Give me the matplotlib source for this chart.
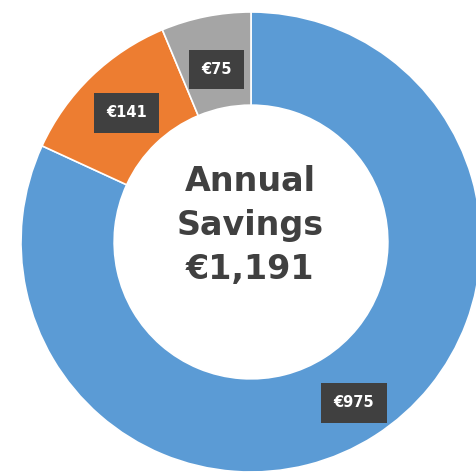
import matplotlib
matplotlib.use("Agg")
import matplotlib.pyplot as plt
import numpy as np

categories = ["Blue", "Orange", "Gray"]
values = [975, 141, 75]
labels = ["€975", "€141", "€75"]
colors = ["#5B9BD5", "#ED7D31", "#A5A5A5"]
center_lines = ["Annual", "Savings", "€1,191"]

W, H = 477, 475
fig = plt.figure(figsize=(W / 100, H / 100), dpi=100)
ax = fig.add_axes([0, 0, 1, 1])

cx, cy = 251, H - 242
R = 230
ring = 0.405

wedges, _ = ax.pie(values, colors=colors, startangle=90, counterclock=False,
                   center=(cx, cy), radius=R, frame=True,
                   wedgeprops=dict(width=R * ring, edgecolor="white", linewidth=1.2))
ax.set_xlim(0, W)
ax.set_ylim(0, H)
ax.set_aspect("equal")
ax.axis("off")

dists = [0.83, 0.78, 0.765]
for w, lab, d in zip(wedges, labels, dists):
    ang = np.deg2rad((w.theta1 + w.theta2) / 2)
    x = cx + R * d * np.cos(ang)
    y = cy + R * d * np.sin(ang)
    ax.text(x, y, lab, ha="center", va="center", color="white", fontsize=10.5,
            fontweight="bold", family="DejaVu Sans",
            bbox=dict(boxstyle="square,pad=0.85", facecolor="#404040", edgecolor="none"))

line_gap = 44
first_baseline = 191
for i, line in enumerate(center_lines):
    ax.text(cx - 1, H - (first_baseline + i * line_gap), line, ha="center", va="baseline",
            color="#404040", fontsize=24, family="DejaVu Sans", fontweight="bold")

fig.savefig("out.png", dpi=100)
